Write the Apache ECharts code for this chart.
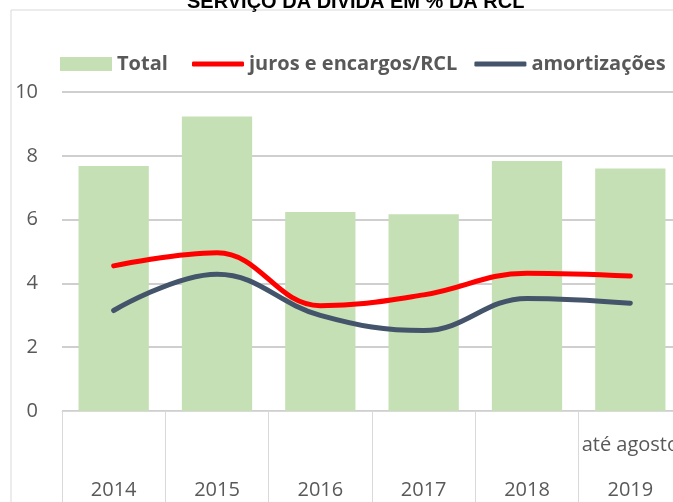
<!DOCTYPE html>
<html>
<head>
<meta charset="utf-8">
<script src="https://cdn.jsdelivr.net/npm/echarts@6/dist/echarts.min.js"></script>
<style>html,body{margin:0;padding:0;background:#fff;}#c{width:673px;height:502px;}</style>
</head>
<body>
<div id="c"></div>
<script>
const categories = ['2014', '2015', '2016', '2017', '2018', '2019'];
const upperLabels = ['', '', '', '', '', 'até agosto'];
const totalValues = [7.68, 9.23, 6.24, 6.17, 7.84, 7.6];
const jurosValues = [4.55, 4.96, 3.3, 3.64, 4.32, 4.23];
const amortValues = [3.15, 4.29, 3.0, 2.52, 3.53, 3.38];
const yTicks = [0, 2, 4, 6, 8, 10];

const font = '"Open Sans", "Liberation Sans", sans-serif';
const legendText = { fontFamily: font, fontSize: 20, fontWeight: 'bold', color: '#595959' };
const chart = echarts.init(document.getElementById('c'));
chart.setOption({
  animation: false,
  title: {
    text: 'SERVIÇO DA DÍVIDA EM % DA RCL',
    left: 182, top: -13,
    textStyle: { fontFamily: '"Liberation Sans", Arial, sans-serif', fontSize: 20, fontWeight: 'bold', color: '#000' }
  },
  graphic: [{
    type: 'rect', shape: { x: 11, y: 10, width: 700, height: 520 },
    style: { fill: 'none', stroke: '#D9D9D9', lineWidth: 1 }, z: -1
  }],
  legend: [{
    left: 55, top: 49,
    itemWidth: 52, itemHeight: 14,
    textStyle: legendText,
    data: [{ name: 'Total', icon: 'rect' }]
  }, {
    left: 187, top: 49, itemGap: 17, width: 600,
    itemWidth: 52, itemHeight: 5,
    textStyle: legendText,
    data: [
      { name: 'juros e encargos/RCL', icon: 'roundRect' },
      { name: 'amortizações', icon: 'roundRect' }
    ]
  }],
  grid: { left: 62, width: 620, top: 92, bottom: 91, containLabel: false, outerBoundsMode: 'none' },
  xAxis: [{
    type: 'category', data: categories, position: 'bottom',
    axisLine: { lineStyle: { color: '#D9D9D9', width: 1 } },
    axisTick: { show: true, alignWithLabel: false, length: 91, lineStyle: { color: '#D9D9D9' } },
    axisLabel: { margin: 69, fontFamily: font, fontSize: 20, color: '#595959' }
  }, {
    type: 'category', data: upperLabels, position: 'bottom',
    axisLine: { show: false }, axisTick: { show: false },
    axisLabel: { margin: 24, fontFamily: font, fontSize: 20, color: '#595959', interval: 0 }
  }],
  yAxis: {
    type: 'value', min: yTicks[0], max: yTicks[yTicks.length - 1], interval: 2,
    axisLine: { show: false }, axisTick: { show: false },
    axisLabel: { margin: 24, fontFamily: font, fontSize: 20, color: '#595959' },
    splitLine: { lineStyle: { color: '#BFBFBF', width: 1.5 } }
  },
  series: [{
    name: 'Total', type: 'bar', data: totalValues, barCategoryGap: '32%',
    itemStyle: { color: '#C5E0B4' }
  }, {
    name: 'juros e encargos/RCL', type: 'line', data: jurosValues, smooth: 0.4,
    symbol: 'none', lineStyle: { color: '#FF0000', width: 5, cap: 'round' }, itemStyle: { color: '#FF0000' }, z: 4
  }, {
    name: 'amortizações', type: 'line', data: amortValues, smooth: 0.4,
    symbol: 'none', lineStyle: { color: '#44546A', width: 5, cap: 'round' }, itemStyle: { color: '#44546A' }, z: 3
  }]
});
</script>
</body>
</html>
